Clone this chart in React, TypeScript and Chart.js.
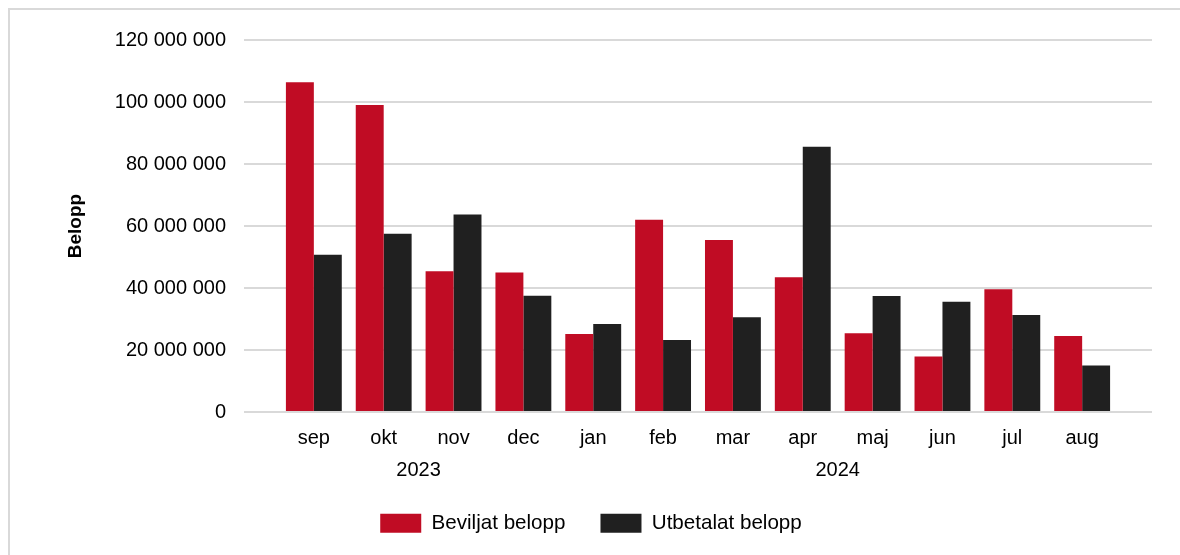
import React, { useEffect, useRef } from "react";
import { Chart, registerables } from "chart.js";

Chart.register(...registerables);

const MONTHS = ["sep", "okt", "nov", "dec", "jan", "feb", "mar", "apr", "maj", "jun", "jul", "aug"];
const YEARS = [
  { label: "2023", first: "sep", last: "dec" },
  { label: "2024", first: "jan", last: "aug" },
];
const BEVILJAT = [106.4, 99.0, 45.4, 45.0, 25.2, 62.0, 55.5, 43.5, 25.4, 17.9, 39.6, 24.5].map((v) => v * 1e6);
const UTBETALAT = [50.7, 57.5, 63.7, 37.5, 28.4, 23.2, 30.6, 85.6, 37.4, 35.6, 31.3, 15.0].map((v) => v * 1e6);
const Y_MAX = 120000000;
const Y_STEP = 20000000;

const FONT = "'Liberation Sans', Arial, sans-serif";

const fmt = (v: number) => String(Math.round(v)).replace(/\B(?=(\d{3})+(?!\d))/g, " ");

export default function App() {
  const ref = useRef<HTMLCanvasElement | null>(null);

  useEffect(() => {
    document.documentElement.style.overflow = "hidden";
    if (!ref.current) return;
    const labels = ["", ...MONTHS, ""];
    const yearPlugin = {
      id: "years",
      afterDraw(chart: any) {
        const xs = chart.scales.x;
        const ctx = chart.ctx;
        ctx.save();
        ctx.font = `20px ${FONT}`;
        ctx.fillStyle = "#000";
        ctx.textAlign = "center";
        ctx.textBaseline = "middle";
        YEARS.forEach((y) => {
          const a = xs.getPixelForValue(labels.indexOf(y.first));
          const b = xs.getPixelForValue(labels.indexOf(y.last));
          ctx.fillText(y.label, (a + b) / 2, chart.chartArea.bottom + 58);
        });
        ctx.restore();
      },
    };
    const chart = new Chart(ref.current, {
      type: "bar",
      data: {
        labels,
        datasets: [
          {
            label: "Beviljat belopp",
            data: [null, ...BEVILJAT, null],
            backgroundColor: "#C00C24",
            borderWidth: 0,
            categoryPercentage: 0.8,
            barPercentage: 1.0,
          },
          {
            label: "Utbetalat belopp",
            data: [null, ...UTBETALAT, null],
            backgroundColor: "#202020",
            borderWidth: 0,
            categoryPercentage: 0.8,
            barPercentage: 1.0,
          },
        ],
      },
      options: {
        animation: false,
        responsive: false,
        maintainAspectRatio: false,
        layout: { padding: { top: 29, right: 20, bottom: 1.4, left: 20 } },
        plugins: {
          legend: {
            position: "bottom",
            labels: {
              boxWidth: 41,
              boxHeight: 19,
              padding: 35,
              color: "#000",
              font: { family: FONT, size: 20.6 },
            },
          },
          tooltip: { enabled: false },
        },
        scales: {
          x: {
            offset: false,
            grid: { display: false },
            border: { display: false },
            ticks: {
              color: "#000",
              padding: 6,
              maxRotation: 0,
              autoSkip: false,
              font: { family: FONT, size: 20 },
            },
            afterFit(scale: any) {
              scale.height = 66;
            },
          },
          y: {
            min: 0,
            max: Y_MAX,
            ticks: {
              stepSize: Y_STEP,
              color: "#000",
              padding: 18,
              font: { family: FONT, size: 20 },
              callback: (v: any) => fmt(Number(v)),
            },
            grid: { color: "#d9d9d9", lineWidth: 2, drawTicks: false },
            border: { display: false },
            title: {
              display: true,
              text: "Belopp",
              color: "#000",
              font: { family: FONT, size: 19, weight: "bold" },
              padding: { top: 34, bottom: 0 },
            },
            afterFit(scale: any) {
              scale.width = 214;
            },
          },
        },
      },
      plugins: [yearPlugin],
    } as any);
    return () => chart.destroy();
  }, []);

  return (
    <div style={{ position: "relative", width: 1164, height: 547, background: "#fff" }}>
      <div style={{ position: "fixed", left: 8, top: 8, right: 0, height: 2, background: "#d9d9d9" }} />
      <div style={{ position: "fixed", left: 8, top: 8, bottom: 0, width: 2, background: "#d9d9d9" }} />
      <canvas
        ref={ref}
        width={1162}
        height={535}
        style={{ position: "absolute", left: 2, top: 2, display: "block", width: 1162, height: 535 }}
      />
    </div>
  );
}
